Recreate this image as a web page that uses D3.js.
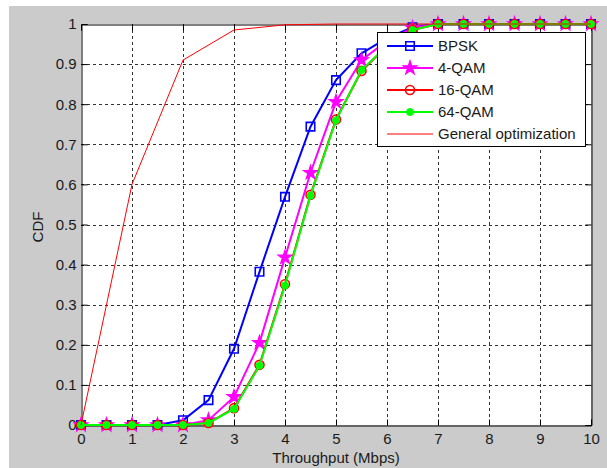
<!DOCTYPE html>
<html>
<head>
<meta charset="utf-8">
<script src="https://cdn.jsdelivr.net/npm/d3@7"></script>
<style>
  body { margin: 0; background: #fff; }
  svg { display: block; font-family: "Liberation Sans", Arial, sans-serif; }
</style>
</head>
<body>
<svg id="chart" width="607" height="468"></svg>
<script>
// x positions of the simulated throughput points (Mbps)
let xs = [0, 0.5, 1, 1.5, 2, 2.5, 3, 3.5, 4, 4.5, 5, 5.5, 6, 6.5, 7, 7.5, 8, 8.5, 9, 9.5, 10];

let bpsk  = [0, 0, 0, 0, 0.012, 0.062, 0.19, 0.382, 0.569, 0.744, 0.86, 0.927, 0.965, 0.992, 1, 1, 1, 1, 1, 1, 1];
let qam4  = [0, 0, 0, 0, 0, 0.012, 0.07, 0.205, 0.418, 0.629, 0.806, 0.91, 0.958, 0.99, 1, 1, 1, 1, 1, 1, 1];
let qam16 = [0, 0, 0, 0, 0, 0.005, 0.042, 0.15, 0.351, 0.574, 0.762, 0.883, 0.945, 0.985, 1, 1, 1, 1, 1, 1, 1];
let qam64 = [0, 0, 0, 0, 0, 0.005, 0.04, 0.148, 0.348, 0.572, 0.76, 0.885, 0.945, 0.985, 1, 1, 1, 1, 1, 1, 1];

let genX = [0, 1, 2, 3, 4, 5, 6, 7, 8, 9, 10];
let genY = [0, 0.6, 0.91, 0.985, 0.998, 1, 1, 1, 1, 1, 1];

let xTicks = [0, 1, 2, 3, 4, 5, 6, 7, 8, 9, 10];
let yTicks = [0, 0.1, 0.2, 0.3, 0.4, 0.5, 0.6, 0.7, 0.8, 0.9, 1];

let legendNames = ["BPSK", "4-QAM", "16-QAM", "64-QAM", "General optimization"];

let fontSize = 15;
let textColor = "#1a1a1a";

let svg = d3.select("#chart");

// grey figure background (white strip on top/left like the screenshot)
svg.append("rect").attr("x", 9).attr("y", 6).attr("width", 598).attr("height", 462).attr("fill", "#cbcbcb");

let plotL = 81, plotR = 591, plotT = 24, plotB = 425;

let x = d3.scaleLinear().domain([0, 10]).range([plotL, plotR]);
let y = d3.scaleLinear().domain([0, 1]).range([plotB, plotT]);

svg.append("rect")
  .attr("x", plotL).attr("y", plotT)
  .attr("width", plotR - plotL).attr("height", plotB - plotT)
  .attr("fill", "#fff");

// dashed grid
let grid = svg.append("g").attr("stroke", "#333").attr("stroke-dasharray", "3,3").attr("stroke-width", 1);
grid.selectAll("line.gx").data(xTicks.slice(1, -1)).enter().append("line")
  .attr("x1", d => Math.round(x(d)) + 0.5).attr("x2", d => Math.round(x(d)) + 0.5)
  .attr("y1", plotT).attr("y2", plotB);
grid.selectAll("line.gy").data(yTicks.slice(1, -1)).enter().append("line")
  .attr("y1", d => Math.round(y(d)) + 0.5).attr("y2", d => Math.round(y(d)) + 0.5)
  .attr("x1", plotL).attr("x2", plotR);

// axes with ticks pointing inward
let xAxis = svg.append("g").attr("transform", `translate(0,${plotB + 0.5})`)
  .call(d3.axisBottom(x).tickValues(xTicks).tickSize(-6).tickPadding(8).tickFormat(d3.format("d")));
let xAxisTop = svg.append("g").attr("transform", `translate(0,${plotT + 0.5})`)
  .call(d3.axisTop(x).tickValues(xTicks).tickSize(-6).tickFormat(""));
let yAxis = svg.append("g").attr("transform", `translate(${plotL + 0.5},0)`)
  .call(d3.axisLeft(y).tickValues(yTicks).tickSize(-6).tickPadding(5).tickFormat(d => d === 0 || d === 1 ? d3.format("d")(d) : d3.format(".1f")(d)));
let yAxisRight = svg.append("g").attr("transform", `translate(${plotR + 0.5},0)`)
  .call(d3.axisRight(y).tickValues(yTicks).tickSize(-6).tickFormat(""));

[xAxis, xAxisTop, yAxis, yAxisRight].forEach(a => {
  a.select(".domain").attr("stroke", "#000");
  a.selectAll(".tick line").attr("stroke", "#000");
  a.selectAll("text").attr("fill", textColor).attr("font-size", fontSize).attr("font-family", "Liberation Sans, Arial, sans-serif");
});

svg.append("text").attr("x", (plotL + plotR) / 2).attr("y", 463)
  .attr("text-anchor", "middle").attr("font-size", fontSize).attr("fill", textColor)
  .text("Throughput (Mbps)");
svg.append("text").attr("transform", "translate(43,227) rotate(-90)")
  .attr("text-anchor", "middle").attr("font-size", fontSize).attr("fill", textColor)
  .text("CDF");

let line = d3.line().x(d => x(d[0])).y(d => y(d[1]));

let star = d3.symbol().type(d3.symbolStar).size(60);
let square = d3.symbol().type(d3.symbolSquare).size(72);

let series = [
  { name: "BPSK", vals: bpsk, color: "#0000ff", marker: "square" },
  { name: "4-QAM", vals: qam4, color: "#ff00ff", marker: "star" },
  { name: "16-QAM", vals: qam16, color: "#ff0000", marker: "circle" },
  { name: "64-QAM", vals: qam64, color: "#00ff00", marker: "dot" }
];

let drawMarker = (g, type, color, cx, cy) => {
  if (type === "square") {
    g.append("path").attr("d", square).attr("transform", `translate(${cx},${cy})`)
      .attr("fill", "none").attr("stroke", color).attr("stroke-width", 1.6);
  } else if (type === "star") {
    g.append("path").attr("d", star).attr("transform", `translate(${cx},${cy})`)
      .attr("fill", color).attr("stroke", color).attr("stroke-width", 1.2);
  } else if (type === "circle") {
    g.append("circle").attr("cx", cx).attr("cy", cy).attr("r", 4.5)
      .attr("fill", "none").attr("stroke", color).attr("stroke-width", 1.6);
  } else {
    g.append("circle").attr("cx", cx).attr("cy", cy).attr("r", 3.5)
      .attr("fill", color).attr("stroke", color).attr("stroke-width", 1);
  }
};

series.forEach(s => {
  let pts = xs.map((v, i) => [v, s.vals[i]]);
  let g = svg.append("g");
  g.append("path").datum(pts).attr("d", line)
    .attr("fill", "none").attr("stroke", s.color).attr("stroke-width", 2);
  pts.forEach(p => drawMarker(g, s.marker, s.color, x(p[0]), y(p[1])));
});

svg.append("path").datum(genX.map((v, i) => [v, genY[i]])).attr("d", line)
  .attr("fill", "none").attr("stroke", "#ff0000").attr("stroke-width", 1);

// legend
let lg = svg.append("g");
lg.append("rect").attr("x", 377.5).attr("y", 32.5).attr("width", 208).attr("height", 114)
  .attr("fill", "#fff").attr("stroke", "#000").attr("stroke-width", 1);
let rowY = [46, 68, 90, 112, 134];
legendNames.forEach((name, i) => {
  let color = i < 4 ? series[i].color : "#ff0000";
  lg.append("line").attr("x1", 387).attr("x2", 433).attr("y1", rowY[i]).attr("y2", rowY[i])
    .attr("stroke", color).attr("stroke-width", i < 4 ? 2 : 1);
  if (i < 4) drawMarker(lg, series[i].marker, color, 410, rowY[i]);
  lg.append("text").attr("x", 438).attr("y", rowY[i] + 5).attr("font-size", fontSize).attr("fill", textColor)
    .text(name);
});
</script>
</body>
</html>
